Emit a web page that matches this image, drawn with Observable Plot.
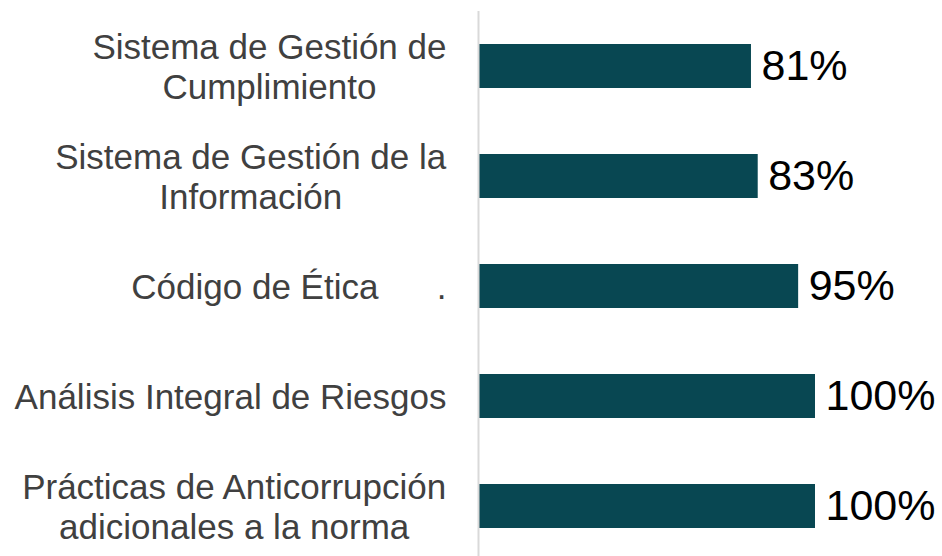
<!DOCTYPE html>
<html>
<head>
<meta charset="utf-8">
<script src="https://cdn.jsdelivr.net/npm/d3@7"></script>
<script src="https://cdn.jsdelivr.net/npm/@observablehq/plot@0.6"></script>
<style>
  html, body { margin: 0; padding: 0; background: #fff; }
  #chart { width: 942px; height: 556px; }
</style>
</head>
<body>
<div id="chart"></div>
<script>
const categories = [
  "Sistema de Gestión de\nCumplimiento",
  "Sistema de Gestión de la\nInformación",
  "Código de Ética\u00A0\u00A0\u00A0\u00A0\u00A0\u00A0.",
  "Análisis Integral de Riesgos",
  "Prácticas de Anticorrupción\nadicionales a la norma"
];
const values = [81, 83, 95, 100, 100];
const valueLabels = ["81%", "83%", "95%", "100%", "100%"];

const data = categories.map((c, i) => ({category: c, value: values[i], label: valueLabels[i]}));

const font = "'Liberation Sans', Arial, sans-serif";

const chart = Plot.plot({
  width: 942,
  height: 556,
  marginLeft: 478,
  marginRight: 127,
  marginTop: 16,
  marginBottom: 0,
  style: {fontFamily: font, background: "#fff"},
  x: {domain: [0, 100], axis: null},
  y: {domain: categories, axis: null, paddingInner: 0.6, paddingOuter: 0.25},
  marks: [
    Plot.barX(data, {x: "value", y: "category", fill: "#084752"}),
    Plot.ruleX([0], {stroke: "#d9d9d9", strokeWidth: 2, insetTop: -5}),
    Plot.text(data, {
      x: 0, y: "category", text: "category",
      textAnchor: "end", dx: -32, lineAnchor: "middle", lineHeight: 1.12,
      fontSize: 35, fill: "#404040", className: "cat-labels"
    }),
    Plot.text(data, {
      x: "value", y: "category", text: "label",
      textAnchor: "start", dx: 10, lineAnchor: "middle",
      fontSize: 43, fill: "#000"
    })
  ]
});

document.getElementById("chart").appendChild(chart);

// Center multi-line labels within their block while keeping the block's right edge at the anchor
d3.select(chart).selectAll("g.cat-labels text").each(function() {
  const tspans = this.querySelectorAll("tspan");
  if (tspans.length < 2) return;
  const w = this.getBBox().width;
  this.setAttribute("text-anchor", "middle");
  const t = this.getAttribute("transform") || "";
  this.setAttribute("transform", t + ` translate(${-w / 2},0)`);
});
</script>
</body>
</html>
